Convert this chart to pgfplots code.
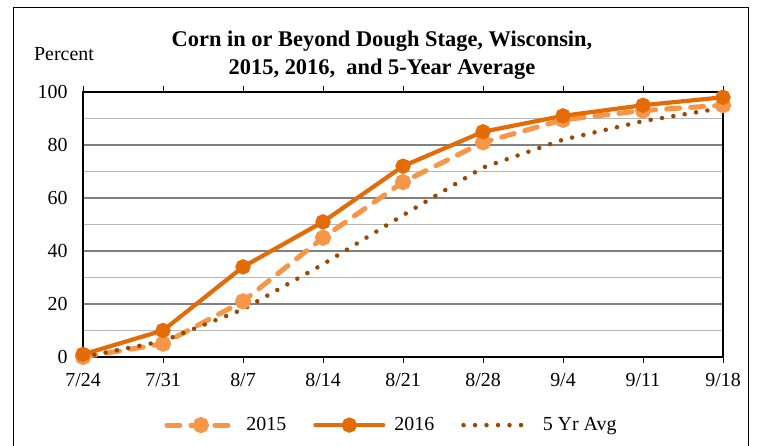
\documentclass[border=0pt]{standalone}
\usepackage{pgfplots}
\pgfplotsset{compat=1.18}
\usepackage{fontspec}
\setmainfont{Liberation Serif}
\definecolor{c2015}{RGB}{247,150,70}
\definecolor{c2016}{RGB}{227,108,9}
\definecolor{cavg}{RGB}{152,72,6}
\begin{document}
\begin{tikzpicture}[x=1bp,y=1bp]
\path[use as bounding box] (0,0) rectangle (764,446);
\begin{scope}
\clip (0,0) rectangle (764,446);
\draw[black,line width=1bp] (13,-10) rectangle (748.5,438);
\end{scope}
\node[font=\bfseries\fontsize{22.5}{28.5}\selectfont,align=center] at (382,391) {Corn in or Beyond Dough Stage, Wisconsin,\\2015, 2016,~ and 5-Year Average};
\node[font=\fontsize{20}{22}\selectfont] at (64,392) {Percent};
\begin{axis}[
  at={(83bp,89bp)}, anchor=south west,
  scale only axis, width=640bp, height=265bp,
  xmin=0, xmax=8, ymin=0, ymax=100,
  xtick={0,...,8},
  xticklabels={7/24,7/31,8/7,8/14,8/21,8/28,9/4,9/11,9/18},
  ytick={0,20,...,100},
  yticklabels={0,20,40,60,80,100},
  minor ytick={10,30,50,70,90},
  ymajorgrids, yminorgrids,
  major grid style={draw=black!50, line width=1.2bp},
  minor grid style={draw=black!28, line width=1.2bp},
  axis line style={black, line width=1.3bp},
  ytick style={draw=none},
  minor tick length=0pt,
  xtick align=outside,
  xtick style={black, line width=1bp},
  major tick length=6bp,
  tick label style={font=\fontsize{20}{22}\selectfont},
  yticklabel style={xshift=-12bp},
  xticklabel style={yshift=-7bp},
  legend style={draw=none, fill=none, at={(0.482,-0.257)}, anchor=center,
    font=\fontsize{20}{22}\selectfont,
    /tikz/every even column/.append style={column sep=25bp},
    /tikz/every odd column/.append style={column sep=7bp}},
  legend columns=3,
  legend image code/.code={\draw[mark repeat=2,mark phase=2] plot coordinates {(0bp,0bp) (34bp,0bp) (68bp,0bp)};},
  clip=false,
]
\addplot[c2015, line width=5bp, line cap=round, dash pattern=on 13bp off 11bp, mark=*, mark size=5.5bp, mark options={solid, fill=c2015, draw=c2015}]
  coordinates {(0,0) (1,5) (2,21) (3,45) (4,66) (5,81) (6,89.5) (7,93) (8,95)};
\addlegendentry{2015}
\addplot[c2016, line width=4.2bp, line cap=round, mark=*, mark size=5.5bp, mark options={solid, fill=c2016, draw=c2016}]
  coordinates {(0,1) (1,10) (2,34) (3,51) (4,72) (5,85) (6,91) (7,95) (8,98)};
\addlegendentry{2016}
\addplot[cavg, line width=4.5bp, line cap=round, dash pattern=on 0bp off 11.5bp]
  coordinates {(0,0) (1,6) (2,18) (3,35) (4,53.5) (5,71.5) (6,82) (7,89) (8,94)};
\addlegendentry{5 Yr Avg}
\end{axis}
\end{tikzpicture}
\end{document}
